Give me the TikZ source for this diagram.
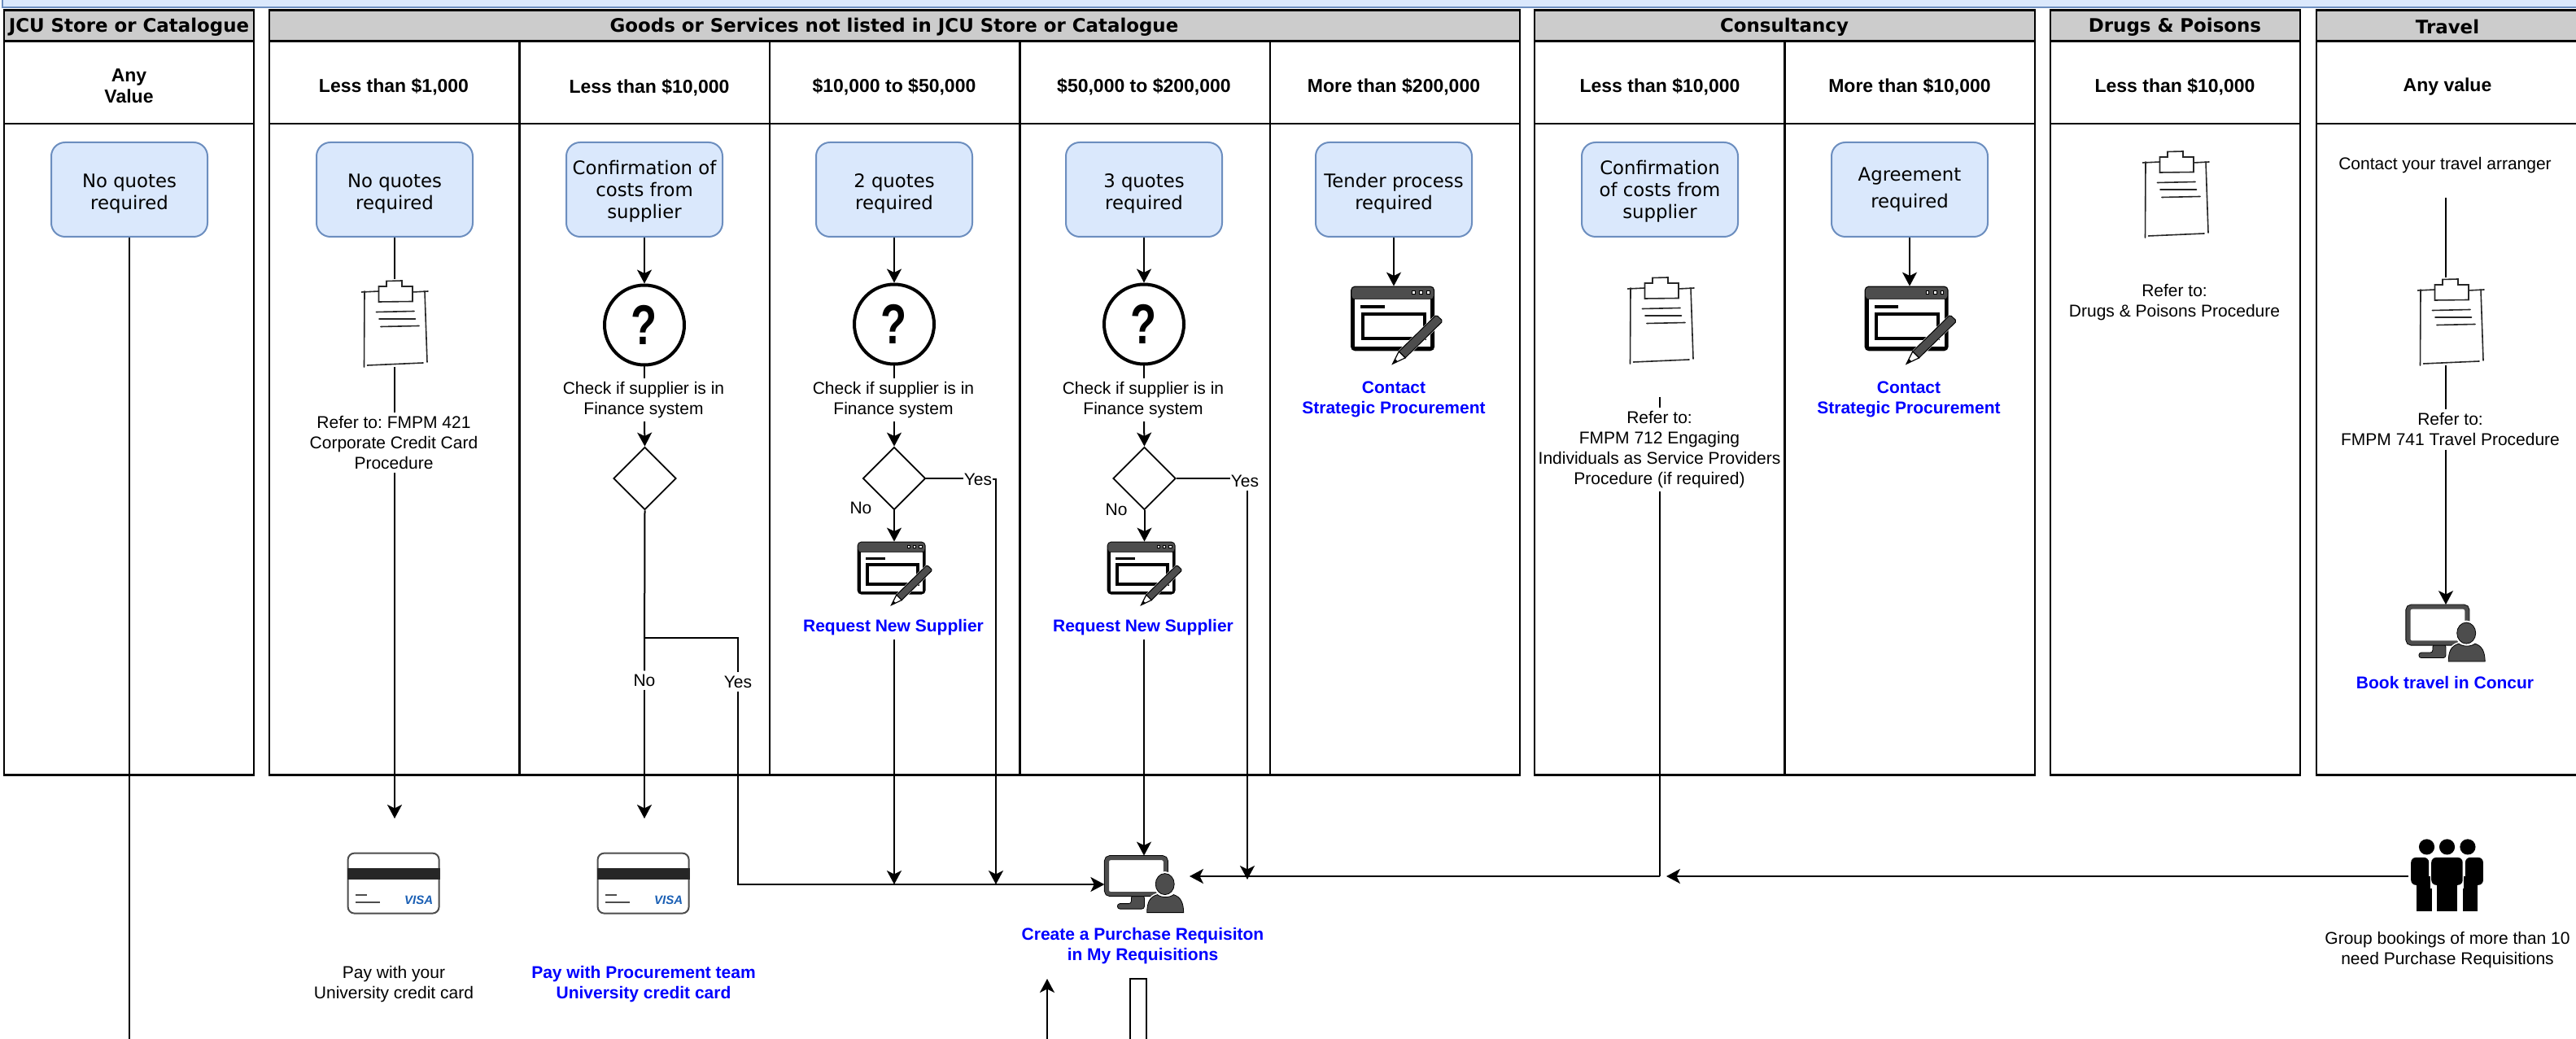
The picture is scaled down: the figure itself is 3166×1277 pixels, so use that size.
\documentclass[tikz,border=0pt]{standalone}
\usepackage{fontspec}
\setmainfont{Liberation Sans}
\newfontfamily\vfont{DejaVu Sans}
\usetikzlibrary{arrows.meta,shapes.geometric}
\definecolor{boxfill}{HTML}{DAE8FC}
\definecolor{boxline}{HTML}{6C8EBF}
\definecolor{headfill}{HTML}{CCCCCC}
\definecolor{icondark}{HTML}{4D4D4D}
\definecolor{visablue}{HTML}{1A5FB4}
\tikzset{
  panel/.style={draw=black,line width=1.3pt,fill=white},
  headpanel/.style={panel,fill=headfill},
  hdr/.style={font=\vfont\bfseries\fontsize{11.45}{14}\selectfont,inner sep=0pt},
  sub/.style={font=\frenchspacing\bfseries\fontsize{11.5}{13}\selectfont,align=center,inner sep=0pt},
  qbox/.style={draw=boxline,fill=boxfill,line width=1pt,rounded corners=8.5pt,minimum width=96pt,minimum height=58pt,inner sep=0pt,align=center,font=\vfont\fontsize{11.4}{13.5}\selectfont},
  lab/.style={font=\frenchspacing\fontsize{10.5}{12.5}\selectfont,align=center,inner xsep=0pt,inner ysep=2pt},
  bluelab/.style={font=\frenchspacing\bfseries\fontsize{10.5}{12.5}\selectfont,align=center,inner xsep=0pt,inner ysep=2pt,text=blue},
  qcircle/.style={circle,draw=black,line width=2pt,minimum size=49pt,inner sep=0pt,font=\bfseries\fontsize{32}{32}\selectfont},
  dia/.style={diamond,draw=black,line width=0.9pt,minimum width=38.5pt,minimum height=38.5pt,inner sep=0pt},
  conn/.style={draw=black,line width=1pt},
  arr/.style={conn,-{Stealth[length=8.5pt,width=9pt,inset=2.2pt]}},
  clipbox/.style={inner sep=0pt,minimum width=41pt,minimum height=53.5pt},
  winbox/.style={inner sep=0pt,minimum width=42pt,minimum height=32.5pt},
  winbig/.style={inner sep=0pt,minimum width=51.5pt,minimum height=40pt},
  monbox/.style={inner sep=0pt,minimum width=48.7pt,minimum height=35pt},
  cardbox/.style={inner sep=0pt,minimum width=57pt,minimum height=38pt},
  groupbox/.style={inner sep=0pt,minimum width=44.4pt,minimum height=44pt},
  clipicon/.pic={
    \begin{scope}[draw=black!85,line width=0.8pt,line cap=round]
      \draw (-37,-39) -- (-37.5,54);
      \draw (37,-39) -- (40,48);
      \draw (-33.5,52) -- (35,49);
      \draw (-40.5,-38) -- (-19.5,-39);
      \draw (22,-38) -- (41,-39);
      \draw (-19.5,-45) -- (-19.5,-26) -- (22,-26.5) -- (22,-45) -- (9,-45) -- (9,-52) -- (-10,-51.5) -- (-10,-45) -- cycle;
      \draw (-22.5,-13.5) -- (24,-14.5);
      \draw (-19,-5) -- (25.5,-5);
      \draw (-17,4.5) -- (30,3.5);
    \end{scope}
  },
  winicon/.pic={
    \fill[black,rounded corners=2.5pt] (0,0) rectangle (84,65);
    \fill[icondark,rounded corners=2pt] (1,1) rectangle (83,13);
    \fill[white] (4,13) rectangle (80,61);
    \foreach \k in {63,70.5,77.7} {\draw[black,fill=white,line width=0.4pt] (\k-1.6,4.4) rectangle (\k+1.6,7.6);}
    \fill[black] (10,19) rectangle (34,22.5);
    \draw[black,line width=2pt] (12,28) rectangle (74,52.5);
    \draw[white,line width=1pt,fill=white] (41,79) -- (48.2,65.6) -- (84.8,29.8) -- (91.2,36.2) -- (54.6,72) -- cycle;
    \fill[icondark,draw=black,line width=0.5pt] (48.2,65.6) -- (84.8,29.8) -- (87,30) -- (91.2,34) -- (91.2,36.2) -- (54.6,72) -- cycle;
    \fill[white,draw=black,line width=0.6pt] (42,78) -- (48.2,65.6) -- (54.6,72) -- cycle;
    \fill[black] (42,78) -- (44.5,73) -- (47,75.5) -- cycle;
  },
  monicon/.pic={
    \fill[icondark,draw=black,line width=0.4pt,rounded corners=1.5pt] (16,65.5) -- (16,59) -- (33,59) -- (33,49) -- (49,49) -- (49,65.5) -- cycle;
    \draw[black,line width=3.5pt,rounded corners=2pt] (3,3) rectangle (75,47);
    \draw[icondark,line width=2.6pt,fill=white,rounded corners=2pt] (3,3) rectangle (75,47);
    \path[fill=icondark,draw=white,line width=2pt] (52.3,70) .. controls (52.5,58) and (55,51) .. (65,48) .. controls (70,52) and (80,52) .. (85,48) .. controls (94,51) and (97,58) .. (97.3,70) -- cycle;
    \path[fill=icondark,draw=white,line width=2pt] (74.3,35) ellipse [x radius=12,y radius=13.5];
    \fill[icondark,draw=black,line width=0.4pt] (52.3,70) .. controls (52.5,58) and (55,51) .. (65,48) .. controls (70,52) and (80,52) .. (85,48) .. controls (94,51) and (97,58) .. (97.3,70) -- cycle;
    \fill[icondark,draw=black,line width=0.4pt] (74.3,35) ellipse [x radius=11.5,y radius=13];
  },
  cardicon/.pic={
    \draw[icondark,line width=1pt,fill=white,rounded corners=4pt] (1,1) rectangle (113,75);
    \fill[black!85] (0,19) rectangle (114,33.5);
    \fill[icondark] (10,51) rectangle (24,53.5);
    \fill[icondark] (10,60) rectangle (40.6,62.5);
    \node[text=visablue,inner sep=0pt,font=\bfseries\itshape\fontsize{7.5}{8}\selectfont] at (88,59) {VISA};
  },
  groupicon/.pic={
    \foreach \k in {19.3,44.3,69.7} {\fill[black] (\k,8.8) circle [radius=9.6];}
    \fill[black,rounded corners=3pt] (0,21.8) rectangle (22,55.7);
    \fill[black] (6.7,45) rectangle (25.3,88);
    \fill[black,rounded corners=3pt] (88.7,21.8) rectangle (66.7,55.7);
    \fill[black] (82,45) rectangle (63.4,88);
    \draw[white,line width=1.4pt] (25,21) -- (25,58) -- (32,58) -- (32,89);
    \draw[white,line width=1.4pt] (63.5,21) -- (63.5,58) -- (57,58) -- (57,89);
    \fill[black,rounded corners=3pt] (25,21.8) rectangle (63.5,55.7);
    \fill[black] (32,45) rectangle (57,88);
  },
}
\newcommand{\qmark}{\scalebox{0.82}[1.08]{?}}
\newcommand{\pushtwo}{\rule{0pt}{12.9pt}}
\newcommand{\pushone}{\rule{0pt}{10.9pt}}
\begin{document}
\begin{tikzpicture}[x=0.5pt,y=-0.5pt]
\useasboundingbox (0,0) rectangle (3166,1277);
% top band
\draw[fill=boxfill,draw=boxline,line width=1pt] (3,-6) rectangle (3180,9.5);
% panels
\foreach \a/\b in {5/312,331/1868,1886/2501,2520/2827,2847/3180}{
  \draw[panel] (\a,50.5) rectangle (\b,952.5);
  \draw[headpanel] (\a,12.5) rectangle (\b,50.5);
  \draw[panel,fill=none] (\a,50.5) rectangle (\b,152);
}
\foreach \a in {638.5,946,1253.5,1561,2193.5}{
  \draw[panel,fill=none] (\a,50.5) -- (\a,952.5);
}
% headers
\node[hdr] (h1) at (158.5,33) {JCU Store or Catalogue};
\node[hdr] (h2) at (1099,33) {Goods or Services not listed in JCU Store or Catalogue};
\node[hdr] (h3) at (2193,33) {Consultancy};
\node[hdr] (h4) at (2673,33) {Drugs \& Poisons};
\node[hdr] (h5) at (3008,33) {Travel};
% subheaders
\node[sub] (s1) at (158.5,106) {Any\\Value};
\node[sub] (s2) at (484,107) {Less than \$1,000};
\node[sub] (s3) at (798,108) {Less than \$10,000};
\node[sub] (s4) at (1099,107) {\$10,000 to \$50,000};
\node[sub] (s5) at (1406,107) {\$50,000 to \$200,000};
\node[sub] (s6) at (1713,107) {More than \$200,000};
\node[sub] (s7) at (2040,107) {Less than \$10,000};
\node[sub] (s8) at (2347,107) {More than \$10,000};
\node[sub] (s9) at (2673,107) {Less than \$10,000};
\node[sub] (s10) at (3008,107) {Any value};
% quote boxes
\node[qbox] (b0) at (159,233) {\pushtwo No quotes\\required};
\node[qbox] (b1) at (485,233) {\pushtwo No quotes\\required};
\node[qbox] (b2) at (792,233) {\pushone Confirmation of\\costs from\\supplier};
\node[qbox] (b3) at (1099,233) {\pushtwo 2 quotes\\required};
\node[qbox] (b4) at (1406,233) {\pushtwo 3 quotes\\required};
\node[qbox] (b5) at (1713,233) {\pushtwo Tender process\\required};
\node[qbox] (b6) at (2040,233) {\pushone Confirmation\\of costs from\\supplier};
\node[qbox] (b7) at (2347,233) {Agreement\\[3pt]required};
% column 1
\node[clipbox] (clip1) at (485,397) {};
\pic at (clip1) {clipicon};
\node[lab] (r1) at (484,544) {Refer to: FMPM 421\\Corporate Credit Card\\Procedure};
\node[cardbox] (card1) at (484,1086) {};
\pic at (card1.north west) {cardicon};
\node[lab] (pay1) at (484,1209.5) {Pay with your\\University credit card};
\coordinate (t1) at (485,1006);
% column 2
\node[qcircle] (q2) at (792,399.5) {\qmark};
\node[lab] (k2) at (791,491.5) {Check if supplier is in\\Finance system};
\node[dia] (d2) at (792.5,588) {};
\node[lab] (no2) at (792,836) {No};
\node[lab] (yes2) at (907,838) {Yes};
\node[cardbox] (card2) at (791,1086) {};
\pic at (card2.north west) {cardicon};
\node[bluelab] (pay2) at (791,1209.5) {Pay with Procurement team\\University credit card};
\coordinate (t2) at (792,1006);
\coordinate (br2) at (792,784);
% column 3
\node[qcircle] (q3) at (1099,398.5) {\qmark};
\node[lab] (k3) at (1098,491.5) {Check if supplier is in\\Finance system};
\node[dia] (d3) at (1099,588) {};
\node[lab] (no3) at (1058,624) {No};
\node[lab] (yes3) at (1202,589) {Yes};
\node[winbox] (w3) at (1096,698.5) {};
\pic at (w3.north west) {winicon};
\node[bluelab] (rq3) at (1098,771.5) {Request New Supplier};
\coordinate (j3) at (1099,1087);
\coordinate (y3) at (1224,1087);
% column 4
\node[qcircle] (q4) at (1406,398.5) {\qmark};
\node[lab] (k4) at (1405,491.5) {Check if supplier is in\\Finance system};
\node[dia] (d4) at (1406.5,588) {};
\node[lab] (no4) at (1372,626) {No};
\node[lab] (yes4) at (1530,591) {Yes};
\node[winbox] (w4) at (1403,698.5) {};
\pic at (w4.north west) {winicon};
\node[bluelab] (rq4) at (1405,771.5) {Request New Supplier};
\coordinate (y4) at (1533,1081);
% column 5
\node[winbig] (w5) at (1712,392) {};
\pic[scale=1.226] at (w5.north west) {winicon};
\node[bluelab] (c5) at (1713,491) {Contact\\Strategic Procurement};
% consultancy
\node[clipbox] (clip6) at (2041,393) {};
\pic at (clip6) {clipicon};
\coordinate (t6) at (2040,488);
\node[lab] (r6) at (2039.5,552.5) {Refer to:\\FMPM 712 Engaging\\Individuals as Service Providers\\Procedure (if required)};
\node[winbig] (w7) at (2343.5,392) {};
\pic[scale=1.226] at (w7.north west) {winicon};
\node[bluelab] (c7) at (2346,491) {Contact\\Strategic Procurement};
% drugs
\node[clipbox] (clip8) at (2674,238) {};
\pic at (clip8) {clipicon};
\node[lab] (r8) at (2672.5,371.5) {Refer to:\\Drugs \& Poisons Procedure};
% travel
\node[lab] (t9) at (3005,203.5) {Contact your travel arranger};
\coordinate (t9b) at (3006,243);
\node[clipbox] (clip9) at (3012,395) {};
\pic at (clip9) {clipicon};
\node[lab] (r9) at (3011.5,528) {Refer to:\\FMPM 741 Travel Procedure};
\node[monbox] (mon9) at (3006,778.5) {};
\pic at (mon9.north west) {monicon};
\node[bluelab] (bk9) at (3005,839) {Book travel in Concur};
% purchase requisition
\node[monbox] (mon) at (1406.5,1087) {};
\pic at (mon.north west) {monicon};
\node[bluelab] (pr) at (1404.5,1162.5) {Create a Purchase Requisiton\\in My Requisitions};
\coordinate (u0) at (1287,1290);
\coordinate (u1) at (1287,1203);
\coordinate (r0) at (1389,1290);
\coordinate (r1b) at (1389,1203);
\coordinate (r2b) at (1408.7,1203);
\coordinate (r3) at (1408.7,1290);
% group
\node[groupbox] (grp) at (3008,1076.5) {};
\pic at (grp.north west) {groupicon};
\node[lab] (g) at (3008,1168) {Group bookings of more than 10\\need Purchase Requisitions};
\coordinate (g0) at (2960,1077);
\coordinate (g1) at (2048,1077);
\coordinate (jc) at (1462,1077);
% connectors
\coordinate (bot0) at (159,1290);
\draw[conn] (b0.south) -- (bot0);
\draw[conn] (b1.south) -- (clip1.north);
\draw[conn] (clip1.south) -- (clip1.south |- r1.north);
\draw[arr] (clip1.south |- r1.south) -- (t1);
\draw[arr] (b2.south) -- (q2.north);
\draw[conn] (q2.south) -- (q2.south |- k2.north);
\draw[arr] (q2.south |- k2.south) -- (d2.north);
\draw[conn] (d2.south) -- (no2.north);
\draw[arr] (no2.south) -- (t2);
\draw[conn] (br2) -| (yes2.north);
\draw[arr] (yes2.south) |- (mon.west);
\draw[arr] (b3.south) -- (q3.north);
\draw[conn] (q3.south) -- (q3.south |- k3.north);
\draw[arr] (q3.south |- k3.south) -- (d3.north);
\draw[arr] (d3.south) -- (d3.south |- w3.north);
\draw[conn] (d3.east) -- (d3.east -| yes3.west);
\draw[arr] (yes3.east) -| (y3);
\draw[arr] (d3.south |- rq3.south) -- (j3);
\draw[arr] (b4.south) -- (q4.north);
\draw[conn] (q4.south) -- (q4.south |- k4.north);
\draw[arr] (q4.south |- k4.south) -- (d4.north);
\draw[arr] (d4.south) -- (d4.south |- w4.north);
\draw[conn] (d4.east) -- (d4.east -| yes4.west);
\draw[arr] (y4 |- yes4.south) -- (y4);
\draw[arr] (q4.south |- rq4.south) -- (q4.south |- mon.north);
\draw[arr] (b5.south) -- (b5.south |- w5.north);
\draw[arr] (b7.south) -- (b7.south |- w7.north);
\draw[conn] (t6) -- (t6 |- r6.north);
\draw[conn] (t6 |- r6.south) -- (t6 |- jc);
\draw[arr] (t6 |- jc) -- (jc);
\draw[arr] (g0) -- (g1);
\draw[conn] (t9b) -- (t9b |- clip9.north);
\draw[conn] (t9b |- clip9.south) -- (t9b |- r9.north);
\draw[arr] (t9b |- r9.south) -- (t9b |- mon9.north);
\draw[arr] (u0) -- (u1);
\draw[conn] (r0) -- (r1b) -- (r2b) -- (r3);
\end{tikzpicture}
\end{document}
